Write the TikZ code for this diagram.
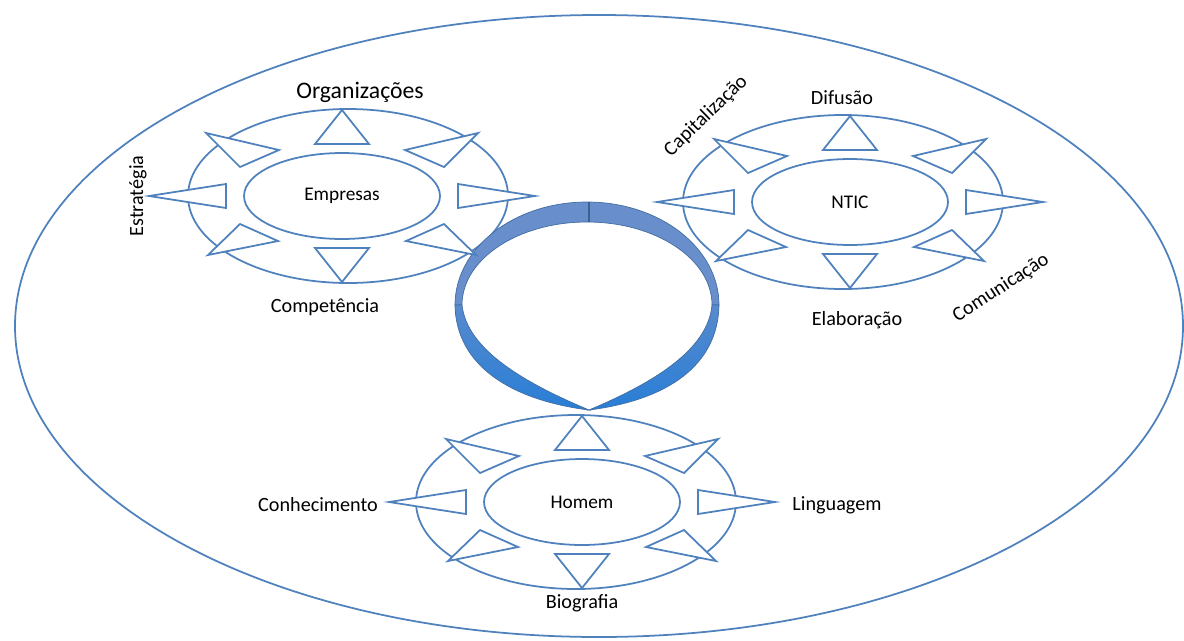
\documentclass[tikz,border=0pt]{standalone}
\usepackage{fontspec}
\setmainfont{Carlito}
\usetikzlibrary{shapes.geometric}

\definecolor{ringblue}{RGB}{79,129,189}
\definecolor{bandtop}{RGB}{104,142,203}
\definecolor{bandmid}{RGB}{88,138,206}
\definecolor{bandlow}{RGB}{40,126,214}

\begin{document}
\begin{tikzpicture}[x=0.02cm, y=-0.02cm,
  every node/.style={font=\fontsize{11.5}{13}\selectfont},
  rim/.style={draw=ringblue, line width=1pt},
  spike/.style={draw=ringblue, fill=white, line width=1pt, line join=miter},
  hub/.style={ellipse, rim, fill=white, minimum width=3.92cm, minimum height=1.72cm,
              inner sep=0pt, font=\fontsize{11}{13}\selectfont}]

\useasboundingbox (0,0) rectangle (1184,640);

% --------- Outer frame ----------
\draw[rim] (599,326) ellipse [x radius=584, y radius=311];

% --------- Three clusters: outer ring, hub ----------
\foreach \nm/\cx/\cy/\off/\txt in {emp/342/196/6/Empresas, ntic/850/202/-7/NTIC, hom/582/502/-6/Homem}{
  \draw[rim] (\cx+\off,\cy) ellipse [x radius=160, y radius=87];
  \node[hub] (\nm) at (\cx,\cy) {\txt};
}

% --------- Central band (twisted ring) ----------
\fill[bandtop, draw=ringblue!85!black, line width=0.4pt]
  (455,305) arc[start angle=180, end angle=360, x radius=132, y radius=103]
  -- (712,305) arc[start angle=360, end angle=180, x radius=125, y radius=83] -- cycle;
\shade[top color=bandmid, bottom color=bandlow, draw=ringblue!85!black, line width=0.4pt]
  (455,305) .. controls (456,365) and (510,400) .. (589,410)
            .. controls (525,383) and (467,350) .. (462,305) -- cycle;
\shade[top color=bandmid, bottom color=bandlow, draw=ringblue!85!black, line width=0.4pt]
  (719,305) .. controls (718,365) and (668,400) .. (589,410)
            .. controls (653,383) and (708,350) .. (712,305) -- cycle;
\draw[ringblue!75!black, line width=0.6pt] (589,202) -- (589,222);

% --------- Spikes round each hub ----------
\foreach \cx/\cy in {342/196, 850/202, 582/502}{
  \begin{scope}[shift={(\cx,\cy)}]
    \foreach \ax/\ay/\bx/\by/\dx/\dy in {
        0/-86/-27/-52/27/-52, 0/86/-27/52/27/52,
        -193/0/-116/-12/-116/12, 193/0/116/-12/116/12,
        -136/-63/-102/-29/-63/-46, 136/-63/102/-29/63/-46,
        -134/59/-102/28/-64/45, 134/59/102/28/64/45}{
      \filldraw[spike] (\ax,\ay) -- (\bx,\by) -- (\dx,\dy) -- cycle;
    }
  \end{scope}
}

% --------- Labels ----------
\node[font=\fontsize{13.5}{15}\selectfont] (org) at (360,92) {Organizações};
\node (comp) at (325,307) {Competência};
\node[rotate=90] (estr) at (138,196) {Estratégia};

\node (dif) at (842,98) {Difusão};
\node (elab) at (857,320) {Elaboração};
\node[rotate=44] (cap) at (706,116) {Capitalização};
\node[rotate=33] (com) at (1001,288) {Comunicação};

\node (conh) at (318,505) {Conhecimento};
\node (ling) at (837,505) {Linguagem};
\node (bio) at (582,603) {Biografia};

\end{tikzpicture}
\end{document}
